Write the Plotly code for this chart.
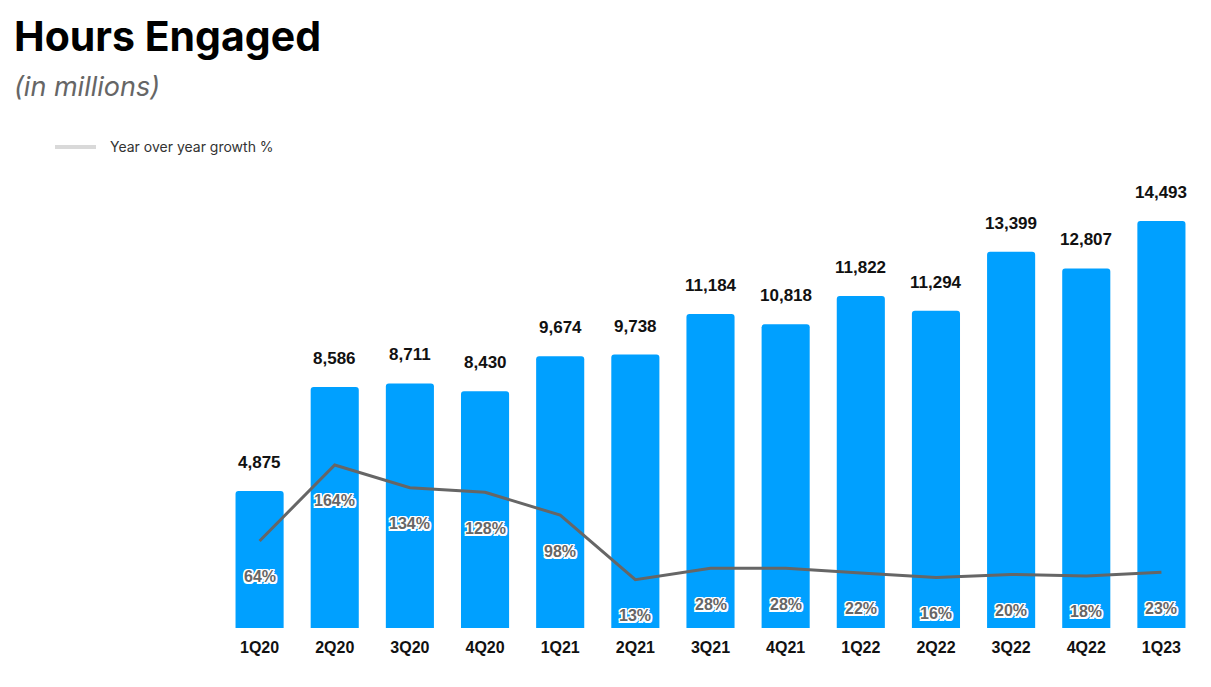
import plotly.graph_objects as go

quarters = ["1Q20", "2Q20", "3Q20", "4Q20", "1Q21", "2Q21", "3Q21", "4Q21",
            "1Q22", "2Q22", "3Q22", "4Q22", "1Q23"]
hours = [4875, 8586, 8711, 8430, 9674, 9738, 11184, 10818, 11822, 11294, 13399, 12807, 14493]
yoy_growth = [64, 164, 134, 128, 98, 13, 28, 28, 22, 16, 20, 18, 23]

BAR_COLOR = "#00A0FF"
LINE_COLOR = "#666666"
OUTLINE = ("1.5px 1.5px 0 #fff, -1.5px -1.5px 0 #fff, 1.5px -1.5px 0 #fff, -1.5px 1.5px 0 #fff, "
           "0 1.5px 0 #fff, 0 -1.5px 0 #fff, 1.5px 0 0 #fff, -1.5px 0 0 #fff")

# page body has an 8px margin: figure is drawn at (8, 8) in the window
OFF = 8
W, H = 1211 - OFF, 687 - OFF
ML, MR, MT, MB = 222 - OFF, 12, 170 - OFF, 59
pw, ph = W - ML - MR, H - MT - MB

fig = go.Figure()
fig.add_trace(go.Bar(
    x=quarters, y=hours, marker=dict(color=BAR_COLOR, cornerradius=3, line=dict(width=0)),
    showlegend=False, hoverinfo="x+y",
))
fig.add_trace(go.Scatter(
    x=quarters, y=yoy_growth, yaxis="y2", mode="lines",
    line=dict(color=LINE_COLOR, width=3), showlegend=False,
))

annotations = []
for q, h in zip(quarters, hours):
    annotations.append(dict(
        x=q, y=h, xref="x", yref="y", text=f"{h:,}", showarrow=False,
        yanchor="bottom", yshift=17,
        font=dict(family="Liberation Sans, Arial, sans-serif", size=17, color="#111111", weight="bold"),
    ))
for q, g in zip(quarters, yoy_growth):
    annotations.append(dict(
        x=q, y=g, xref="x", yref="y2", text=f"{g}%", showarrow=False,
        yanchor="middle", yshift=-36,
        font=dict(family="Liberation Sans, Arial, sans-serif", size=16, color="#666666",
                  weight="bold", shadow=OUTLINE),
    ))


def px_to_paper(px, py):
    return (px - OFF - ML) / pw, (H + OFF - MB - py) / ph


for txt, px, py, fam, size, col in [
    ("<b>Hours Engaged</b>", 12, 36, "Inter, sans-serif", 41, "#000000"),
    ("<i>(in millions)</i>", 12, 86, "Inter, sans-serif", 27, "#666666"),
    ("Year over year growth %", 108, 146, "Inter, sans-serif", 14, "#333333"),
]:
    ax, ay = px_to_paper(px, py)
    annotations.append(dict(x=ax, y=ay, xref="paper", yref="paper", text=txt, showarrow=False,
                            xanchor="left", yanchor="middle",
                            font=dict(family=fam, size=size, color=col)))

lx0, ly = px_to_paper(55, 147)
lx1, _ = px_to_paper(96, 147)

fig.update_layout(
    width=W, height=H,
    margin=dict(l=ML, r=MR, t=MT, b=MB, pad=0),
    paper_bgcolor="white", plot_bgcolor="white",
    bargap=0.36,
    xaxis=dict(showgrid=False, zeroline=False, showline=False, ticks="",
               ticklabelstandoff=8,
               tickfont=dict(family="Liberation Sans, Arial, sans-serif", size=16, color="#111111",
                             weight="bold"),
               range=[-0.5, 12.5]),
    yaxis=dict(visible=False, range=[0, 16311]),
    yaxis2=dict(visible=False, overlaying="y", range=[-50.5, 552]),
    annotations=annotations,
    shapes=[dict(type="line", xref="paper", yref="paper",
                 x0=lx0, x1=lx1, y0=ly, y1=ly,
                 line=dict(color="#d9d9d9", width=4))],
)
fig.write_html("out.html")
